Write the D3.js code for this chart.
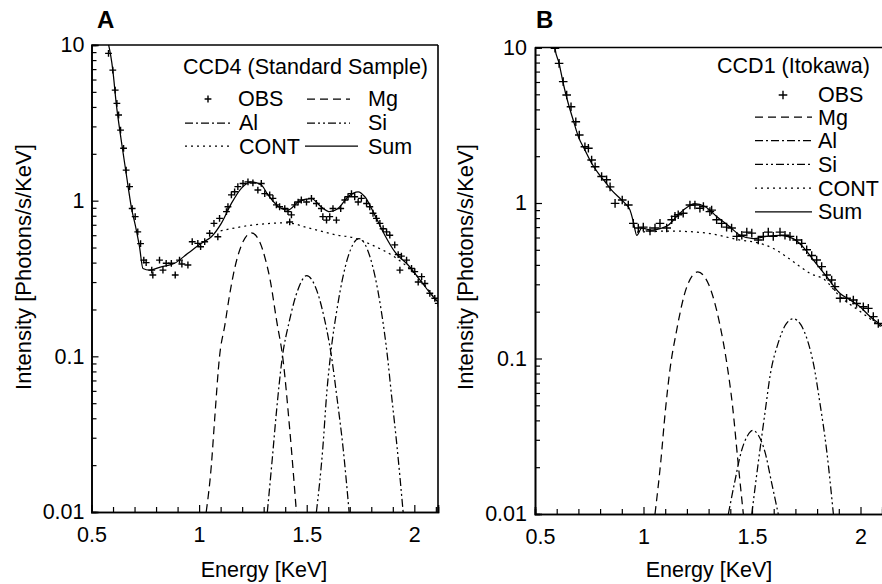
<!DOCTYPE html>
<html><head><meta charset="utf-8">
<script src="https://cdn.jsdelivr.net/npm/d3@7"></script>
<style>
html,body{margin:0;padding:0;background:#fff;}
svg{display:block;font-family:"Liberation Sans",Arial,Helvetica,sans-serif;}
</style></head>
<body><svg id="chart" width="882" height="584"></svg>
<script>
// ---------- shared ticks ----------
const energyTicks = [0.5, 1, 1.5, 2];
const energyTickLabels = ["0.5", "1", "1.5", "2"];
const intensityTicks = [0.01, 0.1, 1, 10];
const intensityTickLabels = ["0.01", "0.1", "1", "10"];
const energyMinor = [0.6,0.7,0.8,0.9,1.1,1.2,1.3,1.4,1.6,1.7,1.8,1.9,2.1];
const intensityMinor = [0.02,0.03,0.04,0.05,0.06,0.07,0.08,0.09,0.2,0.3,0.4,0.5,0.6,0.7,0.8,0.9,2,3,4,5,6,7,8,9];

// ---------- Panel A : CCD4 (Standard Sample) ----------
const obsA = [[0.579,8.83],[0.599,6.90],[0.610,5.13],[0.618,4.22],[0.626,3.55],[0.635,2.84],[0.649,2.17],[0.661,1.57],[0.677,1.23],[0.689,0.89],[0.703,0.79],[0.715,0.63],[0.728,0.53],[0.743,0.415],[0.754,0.40],[0.780,0.358],[0.785,0.333],[0.816,0.415],[0.832,0.358],[0.847,0.396],[0.871,0.396],[0.889,0.333],[0.909,0.415],[0.920,0.392],[0.948,0.386],[0.968,0.545],[0.994,0.532],[1.007,0.506],[1.026,0.545],[1.049,0.617],[1.069,0.715],[1.087,0.586],[1.095,0.77],[1.127,0.85],[1.134,0.914],[1.150,1.09],[1.165,1.14],[1.180,1.23],[1.204,1.29],[1.227,1.32],[1.250,1.30],[1.273,1.17],[1.289,1.29],[1.305,1.11],[1.328,1.09],[1.343,1.035],[1.359,0.94],[1.374,0.914],[1.398,0.89],[1.413,0.85],[1.421,0.73],[1.429,0.81],[1.444,0.94],[1.460,0.98],[1.475,1.01],[1.499,0.98],[1.522,1.035],[1.545,0.96],[1.568,0.89],[1.575,0.79],[1.592,0.75],[1.607,0.79],[1.622,0.89],[1.638,0.75],[1.658,0.89],[1.677,1.01],[1.692,1.06],[1.708,1.11],[1.723,1.06],[1.739,0.98],[1.754,1.035],[1.778,0.96],[1.793,0.914],[1.808,0.83],[1.824,0.77],[1.840,0.715],[1.855,0.66],[1.871,0.63],[1.886,0.60],[1.909,0.52],[1.925,0.45],[1.933,0.358],[1.940,0.44],[1.964,0.415],[1.987,0.367],[2.002,0.35],[2.018,0.30],[2.034,0.325],[2.049,0.294],[2.072,0.254],[2.095,0.236],[2.111,0.219]];
const sumA = [[0.572,11],[0.576,10.5],[0.599,6.9],[0.615,4.2],[0.638,2.45],[0.661,1.50],[0.685,0.91],[0.708,0.65],[0.723,0.506],[0.739,0.367],[0.770,0.358],[0.824,0.376],[0.886,0.396],[0.948,0.459],[1.010,0.532],[1.057,0.586],[1.103,0.715],[1.150,0.96],[1.196,1.20],[1.243,1.32],[1.289,1.26],[1.320,1.09],[1.382,0.89],[1.413,0.87],[1.460,0.98],[1.522,1.03],[1.568,0.91],[1.607,0.85],[1.646,0.89],[1.692,1.06],[1.739,1.14],[1.770,1.06],[1.816,0.81],[1.863,0.60],[1.909,0.47],[1.971,0.386],[2.033,0.301],[2.080,0.248],[2.115,0.22]];
const contA = [[1.10,0.64],[1.258,0.70],[1.412,0.72],[1.505,0.67],[1.644,0.60],[1.723,0.575],[1.802,0.52],[1.909,0.434],[2.002,0.34],[2.115,0.215]];
const mgA = [[1.033,0.01],[1.057,0.02],[1.072,0.039],[1.095,0.1],[1.12,0.16],[1.142,0.25],[1.16,0.34],[1.2,0.53],[1.243,0.62],[1.28,0.55],[1.31,0.41],[1.33,0.31],[1.36,0.17],[1.39,0.095],[1.421,0.034],[1.452,0.01]];
const alA = [[1.317,0.01],[1.34,0.022],[1.36,0.045],[1.385,0.095],[1.42,0.17],[1.46,0.27],[1.5,0.33],[1.54,0.28],[1.58,0.18],[1.615,0.1],[1.64,0.055],[1.67,0.025],[1.697,0.01]];
const siA = [[1.545,0.01],[1.575,0.026],[1.593,0.058],[1.61,0.1],[1.643,0.21],[1.693,0.44],[1.743,0.57],[1.793,0.44],[1.843,0.21],[1.875,0.1],[1.893,0.058],[1.92,0.026],[1.948,0.01]];

// ---------- Panel B : CCD1 (Itokawa) ----------
const obsB = [[0.592,9.9],[0.611,7.91],[0.630,6.03],[0.646,4.95],[0.666,4.16],[0.688,3.33],[0.704,2.74],[0.730,2.30],[0.746,2.25],[0.761,1.89],[0.777,1.71],[0.807,1.48],[0.830,1.41],[0.846,1.27],[0.869,0.995],[0.902,1.045],[0.930,0.97],[0.953,0.74],[0.976,0.69],[0.999,0.70],[1.030,0.66],[1.053,0.69],[1.076,0.74],[1.107,0.69],[1.130,0.78],[1.145,0.82],[1.160,0.84],[1.183,0.86],[1.214,0.97],[1.237,0.97],[1.260,0.925],[1.276,0.95],[1.306,0.88],[1.314,0.90],[1.337,0.78],[1.360,0.74],[1.383,0.70],[1.406,0.69],[1.430,0.61],[1.453,0.62],[1.476,0.65],[1.499,0.64],[1.529,0.578],[1.552,0.61],[1.575,0.65],[1.598,0.61],[1.629,0.65],[1.652,0.62],[1.675,0.61],[1.706,0.578],[1.729,0.55],[1.752,0.50],[1.775,0.46],[1.798,0.43],[1.821,0.39],[1.844,0.344],[1.867,0.32],[1.882,0.29],[1.906,0.244],[1.936,0.244],[1.967,0.238],[1.982,0.226],[2.013,0.215],[2.036,0.21],[2.059,0.186],[2.082,0.168]];
const sumB = [[0.588,11],[0.592,9.9],[0.611,7.91],[0.630,5.89],[0.653,4.38],[0.676,3.42],[0.700,2.67],[0.730,2.19],[0.761,1.80],[0.792,1.55],[0.823,1.37],[0.853,1.21],[0.892,1.07],[0.915,0.995],[0.938,0.90],[0.953,0.76],[0.969,0.62],[0.992,0.69],[1.038,0.67],[1.084,0.69],[1.114,0.72],[1.160,0.84],[1.206,0.95],[1.235,0.99],[1.283,0.95],[1.337,0.82],[1.399,0.70],[1.445,0.62],[1.506,0.59],[1.568,0.61],[1.629,0.62],[1.690,0.59],[1.736,0.52],[1.783,0.43],[1.844,0.336],[1.906,0.262],[1.952,0.238],[1.998,0.215],[2.044,0.186],[2.1,0.162]];
const contB = [[0.97,0.65],[1.122,0.66],[1.291,0.64],[1.445,0.578],[1.537,0.55],[1.598,0.51],[1.660,0.45],[1.721,0.39],[1.767,0.353],[1.836,0.32],[1.9,0.255],[2.0,0.2],[2.1,0.158]];
const mgB = [[1.053,0.01],[1.08,0.022],[1.10,0.045],[1.122,0.085],[1.15,0.145],[1.2,0.29],[1.25,0.36],[1.3,0.3],[1.35,0.17],[1.383,0.095],[1.41,0.05],[1.435,0.022],[1.46,0.01]];
const alB = [[1.391,0.01],[1.42,0.016],[1.45,0.025],[1.48,0.032],[1.505,0.0345],[1.53,0.032],[1.56,0.025],[1.59,0.016],[1.621,0.01]];
const siB = [[1.499,0.01],[1.53,0.022],[1.56,0.045],[1.585,0.08],[1.62,0.125],[1.655,0.165],[1.69,0.18],[1.725,0.165],[1.76,0.125],[1.785,0.09],[1.81,0.055],[1.845,0.025],[1.875,0.01]];

const styles = {
  Mg:   "8,5",
  Al:   "8,3,2,3",
  Si:   "8,3,2,3,2,3",
  CONT: "2,4",
  Sum:  null
};

const svg = d3.select("#chart");
svg.append("rect").attr("width",882).attr("height",584).attr("fill","#fff");

function panel(o) {
  const g = svg.append("g");
  const x = o.x, y = o.y;
  const [x0, x1] = x.range();
  const [y0, y1] = y.range();

  const clipId = "clip" + o.name;
  svg.append("clipPath").attr("id", clipId).append("rect")
    .attr("x", x0).attr("y", y1).attr("width", x1 - x0).attr("height", y0 - y1);
  const plot = g.append("g").attr("clip-path", `url(#${clipId})`);

  const line = d3.line().x(d => x(d[0])).y(d => y(d[1])).curve(d3.curveMonotoneX);
  const curves = [["Mg", o.mg], ["Al", o.al], ["Si", o.si], ["CONT", o.cont], ["Sum", o.sum]];
  curves.forEach(([k, data]) => {
    plot.append("path").datum(data).attr("d", line)
      .attr("fill", "none").attr("stroke", "#000")
      .attr("stroke-width", 1.25)
      .attr("stroke-dasharray", styles[k]);
  });
  const s = o.plus;
  plot.selectAll("path.obs").data(o.obs).enter().append("path")
    .attr("class", "obs")
    .attr("d", d => `M${x(d[0]) - s},${y(d[1])}H${x(d[0]) + s}M${x(d[0])},${y(d[1]) - s}V${y(d[1]) + s}`)
    .attr("stroke", "#000").attr("stroke-width", 1.4).attr("fill", "none");

  const yAxis = d3.axisLeft(y).tickValues(intensityTicks)
    .tickFormat((d, i) => intensityTickLabels[i]).tickSize(-7).tickPadding(o.yPad);
  g.append("g").attr("transform", `translate(${x0},0)`).call(yAxis);
  const yMinor = d3.axisLeft(y).tickValues(intensityMinor).tickFormat("").tickSize(-5);
  g.append("g").attr("transform", `translate(${x0},0)`).call(yMinor);

  const xAxis = d3.axisBottom(x).tickValues(energyTicks)
    .tickFormat((d, i) => energyTickLabels[i]).tickSize(-7).tickPadding(15);
  const gx = g.append("g").attr("transform", `translate(0,${y0})`).call(xAxis);
  const xMinor = d3.axisBottom(x).tickValues(energyMinor.filter(v => v <= x.domain()[1])).tickFormat("").tickSize(-5);
  g.append("g").attr("transform", `translate(0,${y0})`).call(xMinor);

  g.selectAll(".domain").attr("stroke", "#000").attr("stroke-width", 1.6);
  g.selectAll(".tick line").attr("stroke", "#000").attr("stroke-width", 1.2);
  g.selectAll(".tick text").attr("font-size", 21.5).attr("fill", "#000")
    .attr("font-family", "'Liberation Sans', Arial, Helvetica, sans-serif");
  if (o.firstXLabelDx) gx.selectAll(".tick text").filter((d) => d === 0.5).attr("dx", o.firstXLabelDx);

  g.append("line").attr("x1", x0).attr("x2", x1).attr("y1", y1).attr("y2", y1)
    .attr("stroke", "#000").attr("stroke-width", 1.6);
  if (o.rightBorder) g.append("line").attr("x1", x1).attr("x2", x1).attr("y1", y1).attr("y2", y0)
    .attr("stroke", "#000").attr("stroke-width", 1.6);

  g.append("text").attr("x", o.panelLabelX).attr("y", 28).attr("font-size", 24)
    .attr("font-weight", "bold").text(o.name);
  g.append("text").attr("transform", `translate(${o.yTitleX},267) rotate(-90)`)
    .attr("text-anchor", "middle").attr("font-size", 22).text("Intensity [Photons/s/KeV]");
  g.append("text").attr("x", o.xTitleX).attr("y", 577).attr("text-anchor", "middle")
    .attr("font-size", 21.5).text("Energy [KeV]");
  return g;
}

const xA = d3.scaleLinear().domain([0.5, 2.11]).range([91.5, 438]);
const yA = d3.scaleLog().domain([0.01, 10]).range([512, 45]);
const xB = d3.scaleLinear().domain([0.5, 2.1]).range([535, 882.2]);
const yB = d3.scaleLog().domain([0.01, 10]).range([514, 47.5]);

const gA = panel({name: "A", x: xA, y: yA, obs: obsA, sum: sumA, cont: contA, mg: mgA, al: alA, si: siA,
  plus: 3.4, yPad: 7, rightBorder: true, panelLabelX: 97, yTitleX: 31, xTitleX: 264});
const gB = panel({name: "B", x: xB, y: yB, obs: obsB, sum: sumB, cont: contB, mg: mgB, al: alB, si: siB,
  plus: 4.3, yPad: 8, rightBorder: false, panelLabelX: 536, yTitleX: 473, xTitleX: 709, firstXLabelDx: 5});

function legLine(g, x1, x2, yy, key) {
  g.append("line").attr("x1", x1).attr("x2", x2).attr("y1", yy).attr("y2", yy)
    .attr("stroke", "#000").attr("stroke-width", 1.25).attr("stroke-dasharray", styles[key]);
}
function legPlus(g, cx, cy, s) {
  g.append("path").attr("d", `M${cx - s},${cy}H${cx + s}M${cx},${cy - s}V${cy + s}`)
    .attr("stroke", "#000").attr("stroke-width", 1.4);
}
function legText(g, xx, yy, t, anchor) {
  g.append("text").attr("x", xx).attr("y", yy).attr("font-size", 21.5)
    .attr("text-anchor", anchor || "start").text(t);
}
legText(gA, 428, 74, "CCD4 (Standard Sample)", "end");
legPlus(gA, 208, 99, 3.4); legText(gA, 238, 106, "OBS");
legLine(gA, 307, 350, 99, "Mg"); legText(gA, 368, 106, "Mg");
legLine(gA, 185, 233, 123, "Al"); legText(gA, 239, 130, "Al");
legLine(gA, 307, 350, 123, "Si"); legText(gA, 368, 130, "Si");
legLine(gA, 185, 233, 146, "CONT"); legText(gA, 239, 154, "CONT");
legLine(gA, 305, 358, 146, "Sum"); legText(gA, 368, 154, "Sum");

legText(gB, 870, 73, "CCD1 (Itokawa)", "end");
legPlus(gB, 783, 95, 4.3); legText(gB, 818, 102, "OBS");
const keysB = ["Mg", "Al", "Si", "CONT", "Sum"];
keysB.forEach((k, i) => {
  const yy = 117 + i * 23.7;
  legLine(gB, 755, 812, yy, k);
  legText(gB, 818, yy + 7.5, k);
});
</script></body></html>
